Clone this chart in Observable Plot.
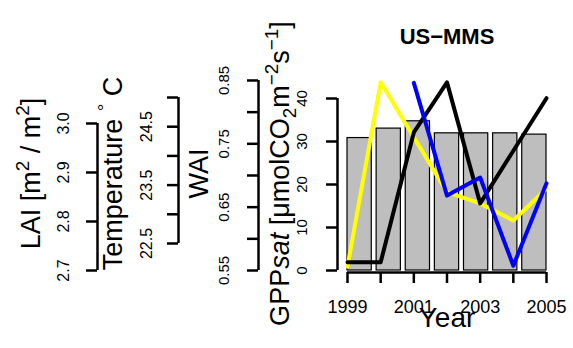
<!DOCTYPE html>
<html><head><meta charset="utf-8">
<script src="https://cdn.jsdelivr.net/npm/d3@7"></script>
<script src="https://cdn.jsdelivr.net/npm/@observablehq/plot@0.6"></script>
<style>body{margin:0;background:#fff}</style>
</head><body><div id="chart"></div>
<script>
// ---- data ----
const years = [1999, 2000, 2001, 2002, 2003, 2004, 2005];
const yearTickLabels = [1999, 2001, 2003, 2005];
const gppSat = [30.8, 33.0, 34.7, 31.9, 31.9, 31.9, 31.6];        // bars
const lai = [2.708, 3.084, 2.972, 2.860, 2.837, 2.802, 2.867];     // yellow
const temperature = [null, null, 25.25, 23.32, 23.63, 22.12, 23.53]; // blue
const wai = [0.563, 0.563, 0.768, 0.847, 0.656, 0.739, 0.822];     // black

const gppTicks = [0, 10, 20, 30, 40];
const waiTicks = [0.55, 0.60, 0.65, 0.70, 0.75, 0.80, 0.85];
const waiTickLabels = [0.55, 0.65, 0.75, 0.85];
const tempTicks = [22.5, 23.0, 23.5, 24.0, 24.5, 25.0];
const tempTickLabels = [22.5, 23.5, 24.5];
const laiTicks = [2.7, 2.8, 2.9, 3.0];
const laiTickLabels = [2.7, 2.8, 2.9, 3.0];

const titleText = "US−MMS";
const xLabel = "Year";
const laiTitle = [["LAI [m"], ["2", "sup"], [" / m"], ["2", "sup"], ["]"]];
const tempTitle = [["Temperature "], ["°", "sup"], [" C"]];
const waiTitle = [["WAI"]];
const gppTitle = [["GPP"], ["sat", "it"], [" [μmolCO"], ["2", "sub"], ["m"], ["−2", "sup"], ["s"], ["−1", "sup"], ["]"]];

// ---- secondary axes expressed in the shared (GPP) y units ----
const laiToY = d3.scaleLinear([2.7, 3.0], [0, 34.19]);
const tempToY = d3.scaleLinear([22.5, 25.0], [6.28, 40.23]);
const waiToY = d3.scaleLinear([0.55, 0.85], [0, 44.19]);
const gppToY = d3.scaleLinear([0, 40], [0, 40]);

// bars laid out like R barplot (space = 0.2) across the year span
const nb = years.length, span = years[nb - 1] - years[0], units = nb + (nb - 1) * 0.2;
const barData = years.map((yr, i) => ({
  year: yr, gpp: gppSat[i],
  x1: years[0] + span * (i * 1.2) / units,
  x2: years[0] + span * (i * 1.2 + 1) / units
}));
const series = (arr, f) => years.map((yr, i) => ({year: yr, y: arr[i] == null ? NaN : f(arr[i])}));

const FRAME_W = 199, TICK = 11, AX_SW = 2.5;
function leftAxis(ticks, labels, map, fmt, lineDx, labelDx, fs) {
  return [
    Plot.ruleX([years[0]], {y1: map(ticks[0]), y2: map(ticks[ticks.length - 1]), dx: lineDx, strokeWidth: AX_SW}),
    Plot.ruleY(ticks, {y: d => map(d), insetRight: FRAME_W - TICK, dx: lineDx - TICK, strokeWidth: AX_SW}),
    Plot.text(labels, {y: d => map(d), text: fmt, frameAnchor: "left", textAnchor: "middle", rotate: -90, dx: labelDx, fontSize: fs})
  ];
}
const f1 = d => d.toFixed(1), f2 = d => d.toFixed(2), f0 = d => String(d);
const plain = segs => segs.map(s => s[0]).join("");
const vTitle = (segs, dx) => Plot.text([plain(segs)], {frameAnchor: "left", textAnchor: "middle", rotate: -90, dx, fontSize: 27});

const chart = Plot.plot({
  width: 573, height: 348,
  marginLeft: 347, marginRight: 27, marginTop: 74, marginBottom: 76,
  style: {fontFamily: "Liberation Sans, Arial, sans-serif", background: "#fff", color: "#000"},
  x: {domain: [years[0], years[nb - 1]]},
  y: {domain: [0, 40], range: [270, 98], axis: null},
  marks: [
    Plot.rect(barData, {x1: "x1", x2: "x2", y1: 0, y2: "gpp", fill: "#bebebe", stroke: "#000", strokeWidth: 1.2}),
    Plot.ruleY([0], {x1: years[0], x2: years[nb - 1], dy: 2, strokeWidth: AX_SW}),
    Plot.axisX({ticks: years, tickSize: TICK, tickPadding: 17, strokeWidth: AX_SW, fontSize: 18,
      tickFormat: d => yearTickLabels.includes(d) ? String(d) : "", label: null}),
    ...leftAxis(gppTicks, gppTicks, gppToY, f0, -10, -45, 15),
    ...leftAxis(waiTicks, waiTickLabels, waiToY, f2, -89, -123, 15),
    ...leftAxis(tempTicks, tempTickLabels, tempToY, f1, -169, -201, 16),
    ...leftAxis(laiTicks, laiTickLabels, laiToY, f1, -250, -284, 16),
    vTitle(laiTitle, -316),
    vTitle(tempTitle, -234),
    vTitle(waiTitle, -148),
    vTitle(gppTitle, -67),
    Plot.text([titleText], {frameAnchor: "top", dy: -46, fontSize: 22, fontWeight: "bold"}),
    Plot.text([xLabel], {frameAnchor: "bottom", dy: 54, fontSize: 28}),
    Plot.line(series(lai, laiToY), {x: "year", y: "y", stroke: "#ffff00", strokeWidth: 4, strokeLinejoin: "round", strokeLinecap: "round"}),
    Plot.line(series(wai, waiToY), {x: "year", y: "y", stroke: "#000", strokeWidth: 4, strokeLinejoin: "round", strokeLinecap: "round"}),
    Plot.line(series(temperature, tempToY), {x: "year", y: "y", stroke: "#0000ff", strokeWidth: 4, strokeLinejoin: "round", strokeLinecap: "round"})
  ]
});

function richify(svg, segs, fs) {
  const p = plain(segs);
  d3.select(svg).selectAll("text").filter(function() { return this.textContent === p; }).each(function() {
    const t = d3.select(this);
    t.text(null);
    let shift = 0;
    for (const [str, kind] of segs) {
      const sp = t.append("tspan").text(str);
      let target = 0;
      if (kind === "sup") { target = -0.42 * fs; sp.attr("font-size", 0.7 * fs); }
      else if (kind === "sub") { target = 0.25 * fs; sp.attr("font-size", 0.7 * fs); }
      else if (kind === "it") sp.attr("font-style", "italic");
      if (target - shift !== 0) sp.attr("dy", target - shift);
      shift = target;
    }
  });
}
richify(chart, laiTitle, 27);
richify(chart, tempTitle, 27);
richify(chart, gppTitle, 27);
document.getElementById("chart").append(chart);
</script>
</body></html>
